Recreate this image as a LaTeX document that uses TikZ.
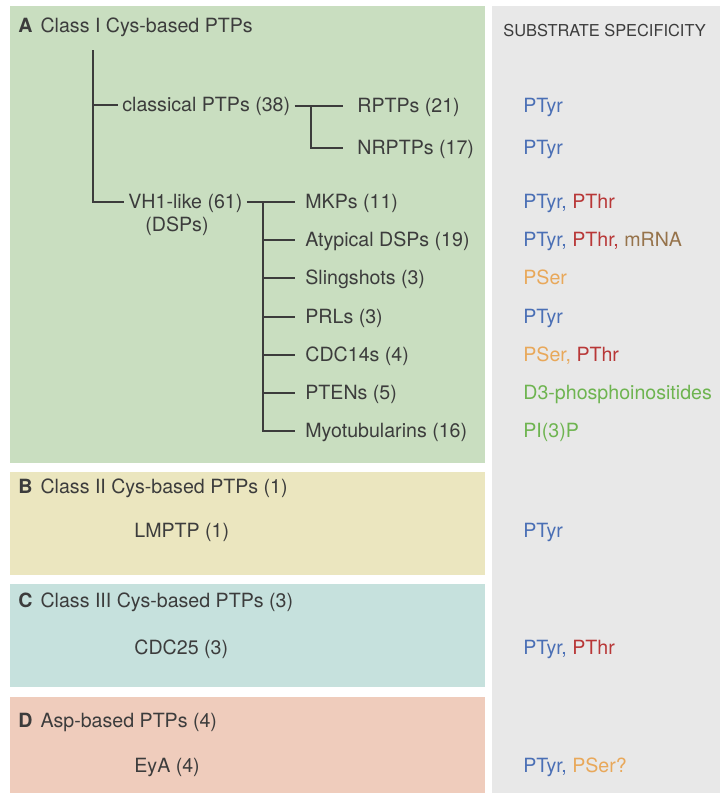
\documentclass[tikz,border=0pt]{standalone}
\usepackage{fontspec}
\setmainfont{TeX Gyre Heros}
\usetikzlibrary{positioning}

\definecolor{ink}{HTML}{3C3C3C}
\definecolor{sage}{HTML}{C9DEC0}
\definecolor{fog}{HTML}{E8E8E8}
\definecolor{straw}{HTML}{EBE6BF}
\definecolor{aqua}{HTML}{C6E1DD}
\definecolor{peach}{HTML}{EFCCBC}
\definecolor{tyrblue}{HTML}{4A6FB5}
\definecolor{thrred}{HTML}{B83737}
\definecolor{serorange}{HTML}{E8A85A}
\definecolor{rnabrown}{HTML}{96734B}
\definecolor{lipidgreen}{HTML}{6EB450}

\newcommand{\tyr}{\textcolor{tyrblue}{PTyr}}
\newcommand{\thr}{\textcolor{thrred}{PThr}}

\begin{document}
\begin{tikzpicture}
[x=0.5pt,y=-0.5pt,
every node/.style={anchor=west,inner sep=2pt,text=ink,
  font=\fontsize{9.8}{12}\selectfont,text height=7.5pt,text depth=1.5pt},
branch/.style={draw=ink,line width=0.75pt},
twig/.style={branch,shorten >=#1},twig/.default=3pt]
\useasboundingbox (0,0) rectangle (720,793);
% panels
\fill[sage] (10,6) rectangle (485,463);
\fill[fog] (492,6) rectangle (720,793);
\fill[straw] (10,472) rectangle (485,575);
\fill[aqua] (10,584) rectangle (485,687);
\fill[peach] (10,697) rectangle (485,793);
% titles
\node (titleA) at (14,26) {\textbf{A}\hspace{4pt}Class I Cys-based PTPs};
\node[font=\fontsize{8.2}{10}\selectfont] (subst) at (499,30) {SUBSTRATE SPECIFICITY};
\node (titleB) at (14,487) {\textbf{B}\hspace{4pt}Class II Cys-based PTPs (1)};
\node (titleC) at (14,601) {\textbf{C}\hspace{4pt}Class III Cys-based PTPs (3)};
\node (titleD) at (14,721) {\textbf{D}\hspace{4pt}Asp-based PTPs (4)};
% tree of class I
\coordinate (root) at (93,50);
\node (classical) at (118,105) {classical PTPs (38)};
\node (rptp) at (353,106) {RPTPs (21)};
\node (nrptp) at (353,148) {NRPTPs (17)};
\node (vh1) at (124,202) {VH1-like (61)};
\node (dsp) at (141,225) {(DSPs)};
\foreach \n/\txt/\y in {mkp/MKPs (11)/202,atyp/Atypical DSPs (19)/240,
  sling/Slingshots (3)/278,prl/PRLs (3)/317,cdc14/CDC14s (4)/355,
  pten/PTENs (5)/393,myo/Myotubularins (16)/431}
  \node (\n) at (301,\y) {\txt};
\coordinate (jc) at (93,105);
\coordinate (jr) at (311,106);
\coordinate (jm) at (263,202);
\draw[branch] (root) |- (vh1.west);
\draw[branch] (jc) -- (classical.west);
\draw[twig=5pt] (classical.east |- rptp.west) -- (rptp.west);
\draw[twig=5pt] (jr) |- (nrptp.west);
\draw[twig] (vh1.east) -- (mkp.west);
\draw[twig] (jm) |- (myo.west);
\foreach \n in {atyp,sling,prl,cdc14,pten}
  \draw[twig] (jm |- \n.west) -- (\n.west);
% other classes
\node (lmptp) at (130,531) {LMPTP (1)};
\node (cdc25) at (130,648) {CDC25 (3)};
\node (eya) at (130,766) {EyA (4)};
% substrates
\node (s1) at (519,106) {\tyr};
\node (s2) at (519,148) {\tyr};
\node (s3) at (519,202) {\textcolor{tyrblue}{PTyr,} \thr};
\node (s4) at (519,240) {\textcolor{tyrblue}{PTyr,} \textcolor{thrred}{PThr,} \textcolor{rnabrown}{mRNA}};
\node (s5) at (519,278) {\textcolor{serorange}{PSer}};
\node (s6) at (519,317) {\tyr};
\node (s7) at (519,355) {\textcolor{serorange}{PSer,} \thr};
\node (s8) at (519,393) {\textcolor{lipidgreen}{D3-phosphoinositides}};
\node (s9) at (519,431) {\textcolor{lipidgreen}{PI(3)P}};
\node (s10) at (519,531) {\tyr};
\node (s11) at (519,648) {\textcolor{tyrblue}{PTyr,} \thr};
\node (s12) at (519,766) {\textcolor{tyrblue}{PTyr,} \textcolor{serorange}{PSer?}};
\end{tikzpicture}
\end{document}
